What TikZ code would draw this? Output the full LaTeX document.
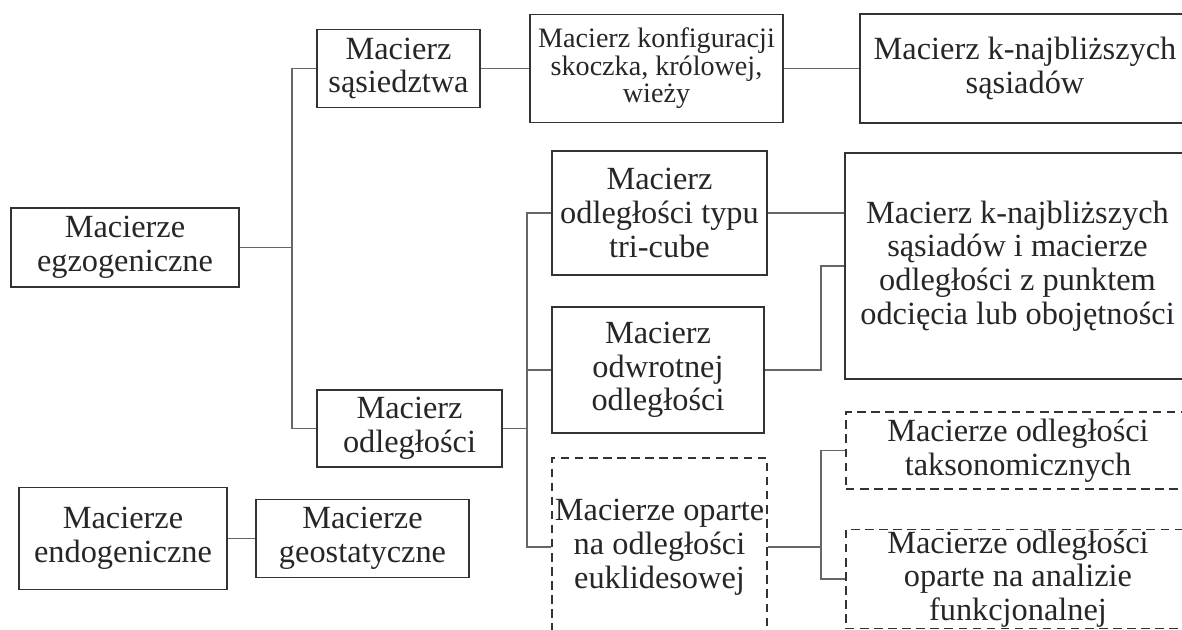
\documentclass[tikz,border=0pt]{standalone}
\usepackage{fontspec}
\setmainfont{Liberation Serif}
\newcommand\mainsz{\fontsize{23}{24}\selectfont}
\newcommand\smallsz{\fontsize{20}{19.5}\selectfont}
\tikzset{
  box/.style={draw=black!80, line width=1.3pt, inner sep=0pt, align=center, text=black!85, font=\mainsz},
  dashedbox/.style={box, dashed, dash pattern=on 6pt off 4pt},
  sz/.style 2 args={minimum width=#1*0.025cm, minimum height=#2*0.025cm},
  link/.style={draw=black!60, line width=1.1pt}
}
\begin{document}
\begin{tikzpicture}[x=0.025cm,y=-0.025cm]
    \useasboundingbox (0,0) rectangle (1182,630);
    \clip (0,0) rectangle (1182,630);
    \node[box,sz={228}{79}] (egzo) at (125,247.5) {Macierze\\egzogeniczne};
    \node[box,sz={163}{78}] (sas) at (398.5,68.5) {Macierz\\sąsiedztwa};
    \node[box,sz={253}{108},font=\smallsz] (konf) at (656.5,68.5) {Macierz konfiguracji\\skoczka, królowej,\\wieży};
    \node[box,sz={330}{109}] (knn) at (1025,68.5) {Macierz k-najbliższych\\sąsiadów};
    \node[box,sz={215}{124}] (tri) at (659.5,213) {Macierz\\odległości typu\\tri-cube};
    \node[box,sz={345}{226}] (knnodl) at (1017.5,266) {Macierz k-najbliższych\\sąsiadów i macierze\\odległości z punktem\\odcięcia lub obojętności};
    \node[box,sz={212}{126}] (odwr) at (658,370) {Macierz\\odwrotnej\\odległości};
    \node[box,sz={185}{77}] (odl) at (409.5,428.5) {Macierz\\odległości};
    \node[dashedbox,sz={215}{178}] (eukl) at (659.5,547) {Macierze oparte\\na odległości\\euklidesowej};
    \node[dashedbox,sz={344}{77}] (takso) at (1018,450.5) {Macierze odległości\\taksonomicznych};
    \node[dashedbox,sz={344}{99}] (funk) at (1018,579) {Macierze odległości\\oparte na analizie\\funkcjonalnej};
    \node[box,sz={208}{102}] (endo) at (123,538.5) {Macierze\\endogeniczne};
    \node[box,sz={213}{78}] (geo) at (362.5,538.5) {Macierze\\geostatyczne};
    \coordinate (j1) at (292,247.5);
    \coordinate (j2) at (527,428.5);
    \coordinate (j3) at (821,370);
    \coordinate (j4) at (821,547);
    \draw[link] (egzo) -- (j1) |- (sas);
    \draw[link] (j1) |- (odl);
    \draw[link] (sas) -- (konf);
    \draw[link] (konf) -- (knn);
    \draw[link] (odl) -- (j2) |- (tri);
    \draw[link] (j2) |- (odwr);
    \draw[link] (j2) |- (eukl);
    \draw[link] (tri) -- (tri -| knnodl.west);
    \draw[link] (odwr) -- (j3) |- (knnodl);
    \draw[link] (eukl) -- (j4) |- (takso);
    \draw[link] (j4) |- (funk);
    \draw[link] (endo) -- (geo);
\end{tikzpicture}
\end{document}
